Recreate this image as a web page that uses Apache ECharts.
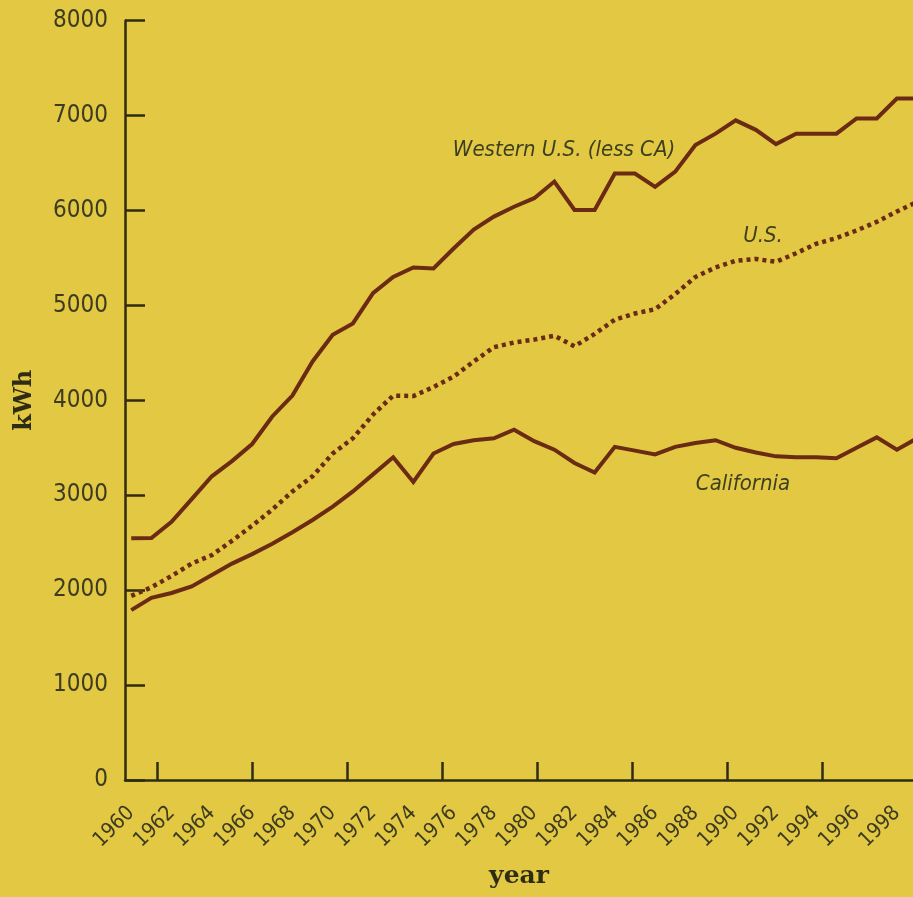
<!DOCTYPE html>
<html>
<head>
<meta charset="utf-8">
<script src="https://cdn.jsdelivr.net/npm/echarts@6/dist/echarts.min.js"></script>
<style>
  html, body { margin: 0; padding: 0; background: #e2c843; }
  #chart { width: 913px; height: 897px; }
</style>
</head>
<body>
<div id="chart"></div>
<script>
// ---- data ----
const years = [1960,1961,1962,1963,1964,1965,1966,1967,1968,1969,
               1970,1971,1972,1973,1974,1975,1976,1977,1978,1979,
               1980,1981,1982,1983,1984,1985,1986,1987,1988,1989,
               1990,1991,1992,1993,1994,1995,1996,1997,1998,1999];
const western = [2547,2550,2720,2960,3200,3360,3540,3830,4050,4410,
                 4690,4810,5130,5300,5400,5390,5600,5800,5936,6040,
                 6130,6305,6006,6006,6390,6390,6250,6410,6690,6810,
                 6950,6850,6700,6810,6810,6810,6970,6970,7180,7180];
const us = [1940,2030,2150,2280,2370,2520,2680,2850,3040,3200,
            3440,3600,3850,4050,4045,4140,4250,4410,4560,4610,
            4640,4680,4570,4700,4850,4915,4960,5120,5300,5400,
            5470,5490,5460,5550,5650,5710,5790,5880,5990,6090];
const california = [1790,1920,1970,2040,2160,2280,2380,2490,2610,2740,
                    2880,3040,3220,3400,3140,3440,3540,3580,3600,3690,
                    3570,3480,3340,3240,3510,3470,3430,3510,3550,3580,
                    3500,3450,3410,3400,3400,3390,3500,3610,3480,3600];
const yearLabels = [1960,1962,1964,1966,1968,1970,1972,1974,1976,1978,
                    1980,1982,1984,1986,1988,1990,1992,1994,1996,1998];
const yTicks = [0,1000,2000,3000,4000,5000,6000,7000,8000];
const seriesNames = ['Western U.S. (less CA)', 'U.S.', 'California'];

// ---- chart ----
const LINE = '#6b2a14';
const AXIS = '#2f2c14';
const TXT = '#3d3b20';
const NUMFONT = '"Liberation Sans Narrow", "DejaVu Sans Condensed", sans-serif';
const TITLEFONT = '"DejaVu Serif", serif';

const xMin = 1959.69, xMax = 1998.80;
// decorative ticks on the x axis, evenly spaced like the y ticks
const xTickStart = 1961.31, xTickStep = 4.715;
const xTicks = [];
for (let v = xTickStart; v < xMax; v += xTickStep) xTicks.push(v);

const pairs = arr => years.map((y, i) => [y, arr[i]]);

const chart = echarts.init(document.getElementById('chart'), null, { renderer: 'canvas' });
chart.setOption({
  backgroundColor: '#e2c843',
  animation: false,
  grid: { left: 125, right: 0, top: 20.7, bottom: 117, containLabel: false, outerBoundsMode: 'none' },
  xAxis: {
    type: 'value', min: xMin, max: xMax,
    name: 'year', nameLocation: 'middle', nameGap: 84,
    nameTextStyle: { fontFamily: TITLEFONT, fontWeight: 'bold', fontSize: 25, color: '#2f2c14' },
    axisLine: { show: true, onZero: false, lineStyle: { color: AXIS, width: 2.5 } },
    axisTick: { show: true, inside: true, length: 18, customValues: xTicks, lineStyle: { color: AXIS, width: 2.5 } },
    axisLabel: {
      customValues: yearLabels, rotate: 45, margin: 30,
      fontFamily: NUMFONT, fontSize: 21, color: TXT,
      formatter: v => String(Math.round(v))
    },
    splitLine: { show: false }
  },
  yAxis: {
    type: 'value', min: yTicks[0], max: yTicks[yTicks.length - 1], interval: 1000,
    name: 'kWh', nameLocation: 'middle', nameGap: 88, nameRotate: 90,
    nameTextStyle: { fontFamily: TITLEFONT, fontWeight: 'bold', fontSize: 24, color: '#2f2c14' },
    axisLine: { show: true, lineStyle: { color: AXIS, width: 2.5 } },
    axisTick: { show: true, inside: true, length: 20, lineStyle: { color: AXIS, width: 2.5 } },
    axisLabel: { margin: 17, fontFamily: NUMFONT, fontSize: 24, color: TXT, formatter: v => String(v) },
    splitLine: { show: false }
  },
  series: [
    { name: seriesNames[0], type: 'line', data: pairs(western), showSymbol: false, silent: true,
      lineStyle: { color: LINE, width: 4, cap: 'butt', join: 'miter' } },
    { name: seriesNames[1], type: 'line', data: pairs(us), showSymbol: false, silent: true,
      lineStyle: { color: LINE, width: 4.5, type: [4, 4], cap: 'butt' } },
    { name: seriesNames[2], type: 'line', data: pairs(california), showSymbol: false, silent: true,
      lineStyle: { color: LINE, width: 4, cap: 'butt', join: 'miter' } }
  ],
  graphic: [
    { type: 'text', x: 564, y: 150, silent: true,
      style: { text: seriesNames[0], fontFamily: NUMFONT, fontStyle: 'italic', fontSize: 22, fill: '#3e3f1f', align: 'center', verticalAlign: 'middle' } },
    { type: 'text', x: 763, y: 236, silent: true,
      style: { text: seriesNames[1], fontFamily: NUMFONT, fontStyle: 'italic', fontSize: 22, fill: '#3e3f1f', align: 'center', verticalAlign: 'middle' } },
    { type: 'text', x: 743, y: 484, silent: true,
      style: { text: seriesNames[2], fontFamily: NUMFONT, fontStyle: 'italic', fontSize: 22, fill: '#3e3f1f', align: 'center', verticalAlign: 'middle' } }
  ]
});
</script>
</body>
</html>
